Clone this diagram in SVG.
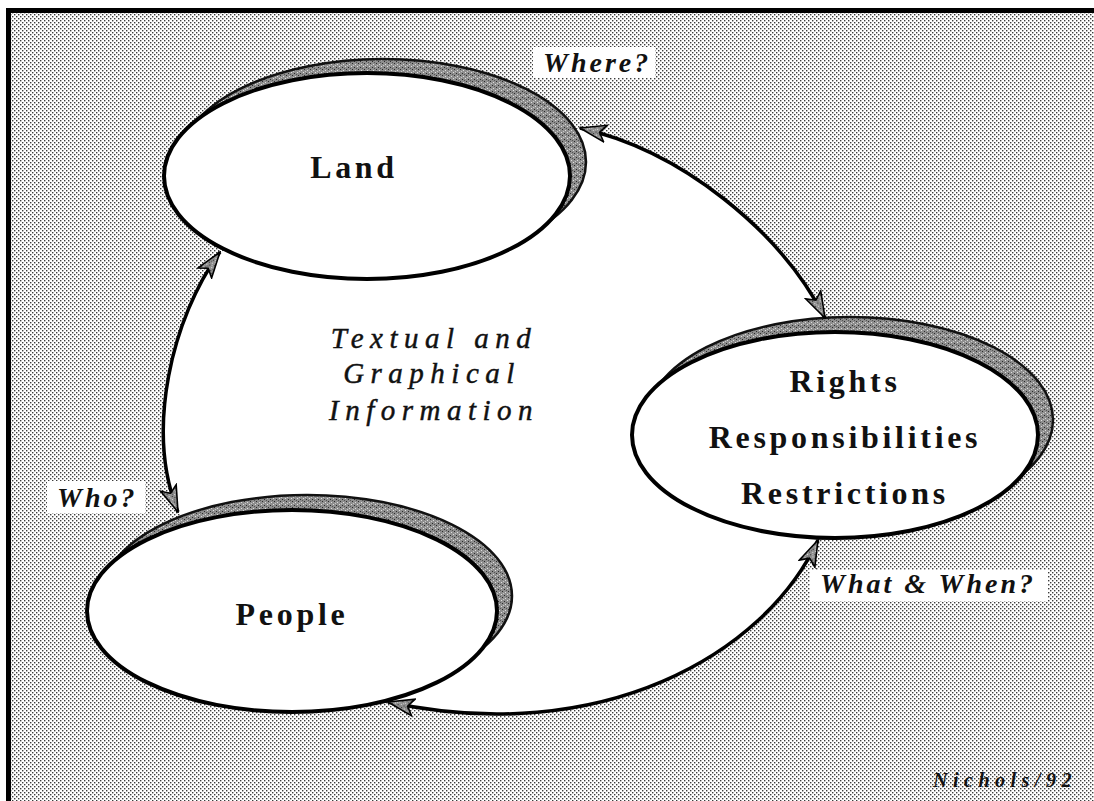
<svg xmlns="http://www.w3.org/2000/svg" width="1094" height="801" viewBox="0 0 1094 801">
  <style>
    .outline { fill: #ffffff; stroke: #000000; stroke-width: 4; }
    .shadow { fill: url(#speckle); stroke: #111111; stroke-width: 2.5; }
    .node-label { font-family: "Liberation Serif", "Times New Roman", serif; font-weight: bold; font-size: 32px; letter-spacing: 3.7px; fill: #111111; text-anchor: middle; }
    .q-label { font-family: "Liberation Serif", "Times New Roman", serif; font-weight: bold; font-style: italic; font-size: 28px; letter-spacing: 3px; fill: #111111; }
    .centre-label { font-family: "Liberation Serif", "Times New Roman", serif; font-style: italic; font-size: 29px; letter-spacing: 6.5px; fill: #111111; stroke: #111111; stroke-width: 0.45; text-anchor: middle; }
    .credit { font-family: "Liberation Serif", "Times New Roman", serif; font-weight: bold; font-style: italic; font-size: 20px; letter-spacing: 5.5px; fill: #111111; }
    .link { fill: none; stroke: #000000; stroke-width: 3.5; marker-start: url(#head); marker-end: url(#head); }
    .label-bg { fill: #ffffff; }
  </style>
  <defs>
    <!-- halftone screen used for the page background -->
    <pattern id="halftone" width="4" height="4" patternUnits="userSpaceOnUse">
      <rect width="4" height="4" fill="#ffffff"/>
      <rect x="0" y="0" width="1.4" height="1.4" fill="#3c3c3c"/>
      <rect x="2" y="2" width="1.4" height="1.4" fill="#3c3c3c"/>
    </pattern>
    <!-- grainy grey used for drop shadows and arrowheads -->
    <pattern id="speckle" width="6" height="6" patternUnits="userSpaceOnUse">
      <rect width="6" height="6" fill="#8e8e8e"/>
      <rect x="0" y="1" width="1" height="1" fill="#2a2a2a"/>
      <rect x="3" y="0" width="1" height="1" fill="#e0e0e0"/>
      <rect x="4" y="3" width="1" height="1" fill="#2a2a2a"/>
      <rect x="1" y="4" width="1" height="1" fill="#dcdcdc"/>
      <rect x="2" y="2" width="1" height="1" fill="#555555"/>
      <rect x="5" y="5" width="1" height="1" fill="#c8c8c8"/>
    </pattern>
    <marker id="head" viewBox="0 0 28 20" refX="27" refY="10" markerWidth="28" markerHeight="20" markerUnits="userSpaceOnUse" orient="auto-start-reverse">
      <path d="M1,1.5 L27,10 L1,18.5 L7,10 Z" fill="url(#speckle)" stroke="#000000" stroke-width="1.6" stroke-linejoin="miter"/>
    </marker>
  </defs>

  <!-- page -->
  <rect x="0" y="0" width="1094" height="801" fill="#ffffff"/>
  <rect x="9" y="11" width="1085" height="790" fill="url(#halftone)"/>
  <g id="frame" stroke="#000000" stroke-width="5" fill="none">
    <line x1="8.5" y1="8" x2="8.5" y2="801"/>
    <line x1="6" y1="10.5" x2="1094" y2="10.5"/>
  </g>

  <!-- white field enclosed by the three links -->
  <path id="field" d="M 580 128 C 680 150, 780 230, 825 318 L 818 540 C 765 655, 600 748, 388 702 L 178 512 C 145 430, 172 318, 220 252 Z" fill="#ffffff"/>

  <g id="land">
    <ellipse class="shadow" cx="383" cy="162" rx="203" ry="103"/>
    <ellipse class="outline" cx="367" cy="176" rx="203" ry="103"/>
    <text class="node-label" x="354" y="178">Land</text>
  </g>

  <g id="rights">
    <ellipse class="shadow" cx="850" cy="420" rx="203" ry="103"/>
    <ellipse class="outline" cx="835" cy="435" rx="203" ry="103"/>
    <text class="node-label" x="845" y="392">Rights</text>
    <text class="node-label" x="845" y="448">Responsibilities</text>
    <text class="node-label" x="845" y="504">Restrictions</text>
  </g>

  <g id="people">
    <ellipse class="shadow" cx="307" cy="596" rx="205" ry="101"/>
    <ellipse class="outline" cx="292" cy="611" rx="205" ry="101"/>
    <text class="node-label" x="292" y="625">People</text>
  </g>

  <g id="connectors">
    <path class="link" d="M 580 128 C 680 150, 780 230, 825 318"/>
    <path class="link" d="M 818 540 C 765 655, 600 748, 388 702"/>
    <path class="link" d="M 220 252 C 172 318, 145 430, 178 512"/>
  </g>

  <g id="link-labels">
    <rect class="label-bg" x="533" y="47" width="122" height="31"/>
    <text class="q-label" x="543" y="72">Where?</text>
    <rect class="label-bg" x="47" y="481" width="98" height="32"/>
    <text class="q-label" x="57" y="507">Who?</text>
    <rect class="label-bg" x="810" y="570" width="238" height="31"/>
    <text class="q-label" x="820" y="593">What &amp; When?</text>
  </g>

  <g id="centre-caption">
    <text class="centre-label" x="434" y="348">Textual and</text>
    <text class="centre-label" x="432" y="383">Graphical</text>
    <text class="centre-label" x="434" y="420">Information</text>
  </g>

  <text id="credit" class="credit" x="933" y="787">Nichols/92</text>
</svg>
